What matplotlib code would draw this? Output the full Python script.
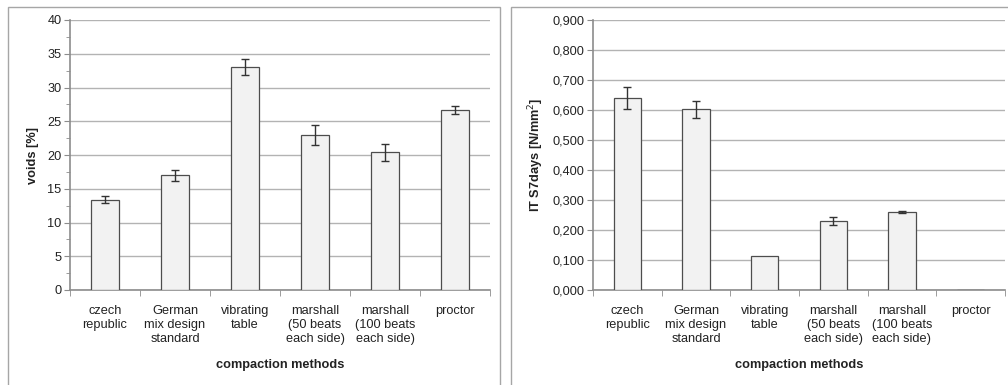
import matplotlib
matplotlib.use("Agg")
import matplotlib.pyplot as plt
from matplotlib.patches import Rectangle
from matplotlib.ticker import FixedLocator, FuncFormatter
import numpy as np

plt.rcParams['font.family'] = ['Liberation Sans', 'DejaVu Sans']

categories = ["czech\nrepublic", "German\nmix design\nstandard", "vibrating\ntable",
              "marshall\n(50 beats\neach side)", "marshall\n(100 beats\neach side)", "proctor"]
voids = [13.4, 17.0, 33.0, 23.0, 20.4, 26.7]
voids_err = [0.5, 0.8, 1.2, 1.5, 1.3, 0.6]
its7 = [0.641, 0.603, 0.113, 0.230, 0.260, 0.0]
its7_err = [0.037, 0.028, 0.0, 0.012, 0.003, 0.0]
voids_ticks = [0, 5, 10, 15, 20, 25, 30, 35, 40]
its_ticks = [0.0, 0.1, 0.2, 0.3, 0.4, 0.5, 0.6, 0.7, 0.8, 0.9]

W, H = 1008, 385
fig = plt.figure(figsize=(W / 100, H / 100), dpi=100)

# panel borders
border = "#a6a6a6"
fig.patches.append(Rectangle((8 / W, -0.05), (500 - 8) / W, 1.05 - 7 / H, transform=fig.transFigure,
                             fill=False, edgecolor=border, linewidth=1.0))
fig.patches.append(Rectangle((511 / W, -0.05), 0.6, 1.05 - 7 / H, transform=fig.transFigure,
                             fill=False, edgecolor=border, linewidth=1.0))

ax1 = fig.add_axes([70 / W, 1 - 290 / H, (490 - 70) / W, (290 - 20) / H])
ax2 = fig.add_axes([593 / W, 1 - 290 / H, (1005 - 593) / W, (290 - 20) / H])

grid_c = "#b3b3b3"
axis_c = "#8c8c8c"
bar_face = "#f2f2f2"
bar_edge = "#4d4d4d"
err_c = "#333333"
fs = 9.2

def style(ax, vals, errs, ticks, ylabel, fmt, minor):
    x = np.arange(len(categories))
    ax.bar(x, vals, width=0.4, color=bar_face, edgecolor=bar_edge, linewidth=0.9, zorder=3)
    e = np.array(errs)
    mask = e > 0
    ax.errorbar(x[mask], np.array(vals)[mask], yerr=e[mask], fmt='none', ecolor=err_c,
                elinewidth=1.0, capsize=2.8, capthick=1.0, zorder=4)
    ax.set_xlim(-0.5, len(categories) - 0.5)
    ax.set_ylim(ticks[0], ticks[-1])
    ax.yaxis.set_major_locator(FixedLocator(ticks))
    ax.yaxis.set_major_formatter(FuncFormatter(fmt))
    if minor:
        step = ticks[1] - ticks[0]
        ax.yaxis.set_minor_locator(FixedLocator([t + step / 2 for t in ticks[:-1]]))
    ax.set_xticks(x)
    ax.set_xticklabels(categories, fontsize=fs, color="#222222", linespacing=1.22)
    ax.xaxis.set_minor_locator(FixedLocator(np.arange(-0.5, len(categories), 1.0)))
    ax.tick_params(axis='x', which='major', length=0, pad=11)
    ax.tick_params(axis='x', which='minor', length=4, color=axis_c, direction='out')
    ax.tick_params(axis='y', which='major', length=4, color=axis_c, labelsize=fs, labelcolor="#222222", pad=2)
    ax.tick_params(axis='y', which='minor', length=3, color=axis_c)
    for s in ['top', 'right']:
        ax.spines[s].set_visible(False)
    for s in ['left', 'bottom']:
        ax.spines[s].set_color(axis_c)
        ax.spines[s].set_linewidth(1.2)
    ax.yaxis.grid(True, which='major', color=grid_c, linewidth=1.0, zorder=0)
    ax.set_axisbelow(True)
    ax.set_ylabel(ylabel, fontsize=fs, fontweight='bold', color="#222222")
    ax.set_xlabel("compaction methods", fontsize=fs, fontweight='bold', color="#222222", labelpad=10)

style(ax1, voids, voids_err, voids_ticks, "voids [%]", lambda v, p: f"{v:g}", True)
style(ax2, its7, its7_err, its_ticks, "IT S7days [N/mm$^2$]",
      lambda v, p: f"{v:.3f}".replace('.', ','), False)

ax1.yaxis.set_label_coords(-31 / 420, 0.5)
ax2.yaxis.set_label_coords(-47 / 412, 0.5)

fig.savefig("out.png", dpi=100)
